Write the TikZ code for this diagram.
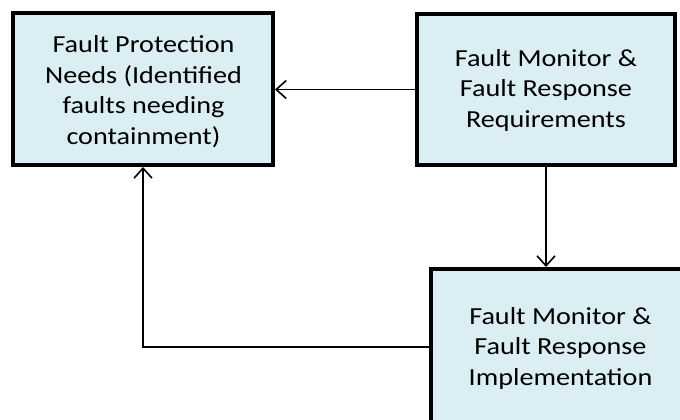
\documentclass[tikz,border=0pt]{standalone}
\usepackage{fontspec}
\setmainfont[FakeStretch=1.15]{Carlito}
\usetikzlibrary{arrows.meta}
\definecolor{boxfill}{HTML}{DAEEF3}
\tikzset{
  x=1pt, y=-1pt,
  box/.style={draw=black, fill=boxfill, line width=4pt, rectangle,
    inner sep=0pt},
  boxtext/.style={anchor=base, align=center, inner sep=0pt,
    font=\fontsize{24.5}{30.5}\selectfont},
  link/.style={draw=black, line width=1.6pt,
    -{Straight Barb[length=10pt, width=18pt]}}
}
\begin{document}
\begin{tikzpicture}
\useasboundingbox (0,0) rectangle (680,420);
% the three boxes
\node[box, minimum width=260pt, minimum height=152pt] (needs) at (143,89) {};
\node[box, minimum width=258pt, minimum height=151pt] (reqs) at (546,89.5) {};
\node[box, minimum width=260pt, minimum height=156pt] (impl) at (561,347) {};
% their texts, placed by the baseline of the last line
\node[boxtext] (needstext) at (143.5,144)
  {Fault Protection\\Needs (Identified\\faults needing\\containment)};
\node[boxtext] (reqstext) at (546,127)
  {Fault Monitor \&\\Fault Response\\Requirements};
\node[boxtext] (impltext) at (560.5,385)
  {Fault Monitor \&\\Fault Response\\Implementation};
% connectors
\draw[link] (reqs.west) -- (reqs.west -| needs.east);
\draw[link] (reqs.south) -- (reqs.south |- impl.north);
\draw[link] (impl.west) -| (needs.south);
\end{tikzpicture}
\end{document}
